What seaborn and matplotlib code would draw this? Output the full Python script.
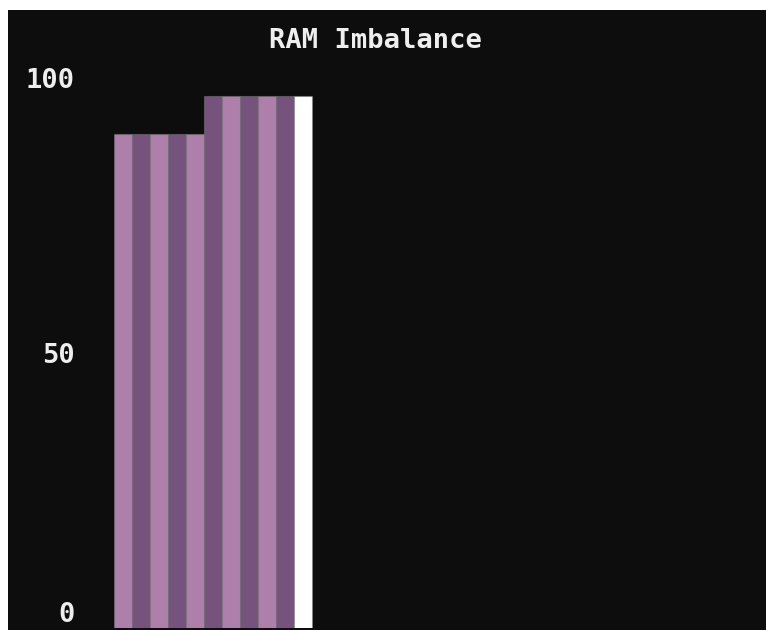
import matplotlib
matplotlib.use("Agg")
import matplotlib.pyplot as plt
from matplotlib.patches import Rectangle
import seaborn as sns
import pandas as pd

# data
nodes = ["n1", "n2", "n3", "n4", "n5", "n6", "n7", "n8", "n9", "n10", "n11"]
ram_pct = [89.9, 89.9, 89.9, 89.9, 89.9, 96.7, 96.7, 96.7, 96.7, 96.7, 96.7]
bar_colors = ["#ae7fab", "#76537d", "#ae7fab", "#76537d", "#ae7fab",
              "#76537d", "#ae7fab", "#76537d", "#ae7fab", "#76537d", "#ffffff"]
y_ticks = [0, 50, 100]
title = "RAM Imbalance"

df = pd.DataFrame({"node": nodes, "ram": ram_pct})

sns.set_theme(style="dark")
plt.rcParams["font.family"] = ["DejaVu Sans Mono", "DejaVu Sans"]

W, H = 766, 630
fig = plt.figure(figsize=(W / 100, H / 100), dpi=100, facecolor="white")
bg = "#0d0d0d"
fig.patches.append(Rectangle((8 / W, 0), (W - 8) / W, (H - 10) / H,
                             transform=fig.transFigure, facecolor=bg,
                             edgecolor="none", zorder=-10))

ax_left, ax_right = 114, 758
ax_top, ax_bottom = 78, 628
ax = fig.add_axes([ax_left / W, (H - ax_bottom) / H,
                   (ax_right - ax_left) / W, (ax_bottom - ax_top) / H])
ax.set_facecolor(bg)

sns.barplot(data=df, x="node", y="ram", hue="node", palette=bar_colors,
            legend=False, width=1.0, ax=ax, saturation=1,
            edgecolor=(0.5, 0.5, 0.5, 0.45), linewidth=0.8)

bar_px = 18
ax.set_xlim(-0.5, -0.5 + (ax_right - ax_left) / bar_px)
ax.set_ylim(0, 100)
ax.set_yticks(y_ticks)
ax.set_yticklabels([str(t) for t in y_ticks])
ax.set_xticks([])
ax.set_xlabel("")
ax.set_ylabel("")
ax.grid(False)
for s in ax.spines.values():
    s.set_visible(False)
ax.tick_params(axis="y", length=0, pad=28, labelsize=19.5, labelcolor="#eeeeee")
for lab in ax.get_yticklabels():
    lab.set_fontweight("bold")
ax.get_yticklabels()[0].set_verticalalignment("bottom")

fig.text(375 / W, (H - 41) / H, title, ha="center", va="center",
         fontsize=19.5, fontweight="bold", color="#eeeeee")

fig.savefig("out.png", dpi=100, facecolor="white")
